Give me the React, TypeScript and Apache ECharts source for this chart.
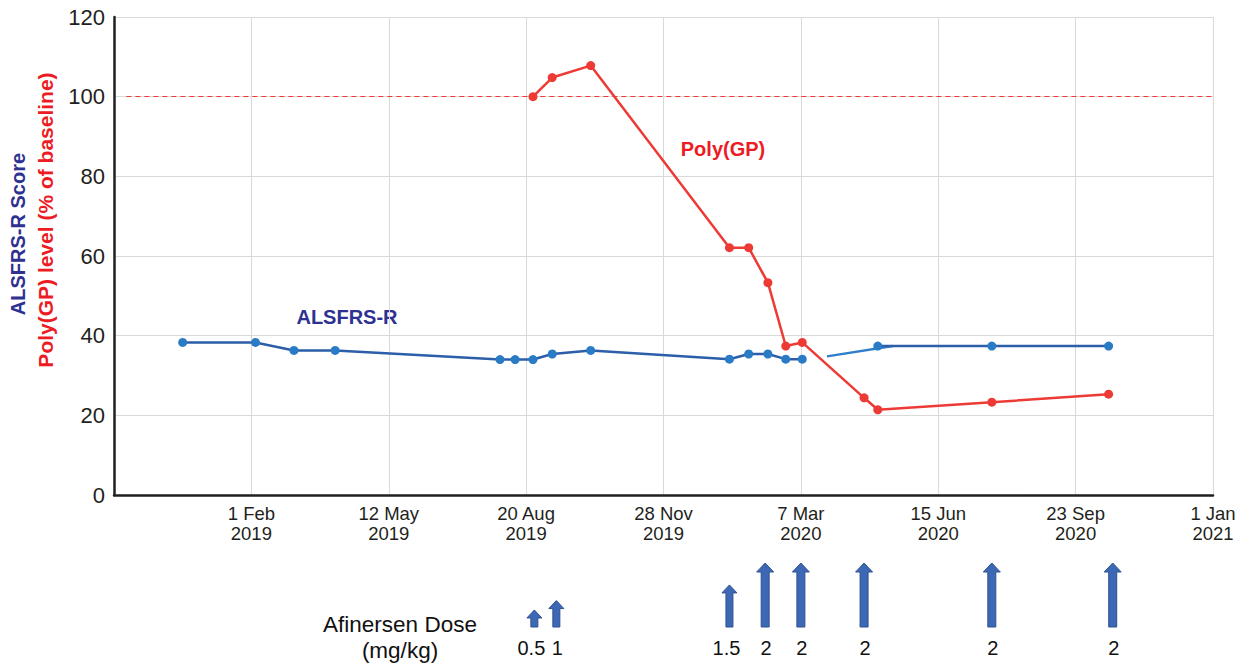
import React, { useEffect, useRef } from "react";
import * as echarts from "echarts";

// ---- data (dates) ----
const ORIGIN = "2018-10-24"; // x-axis start (100 days before 1 Feb 2019)
const xTickLabels = [
  "",
  "1 Feb\n2019",
  "12 May\n2019",
  "20 Aug\n2019",
  "28 Nov\n2019",
  "7 Mar\n2020",
  "15 Jun\n2020",
  "23 Sep\n2020",
  "1 Jan\n2021",
];

const alsfrsDatesA = [
  "2018-12-13", "2019-02-04", "2019-03-04", "2019-04-03", "2019-08-01",
  "2019-08-12", "2019-08-25", "2019-09-08", "2019-10-06", "2020-01-15",
  "2020-01-29", "2020-02-12", "2020-02-25", "2020-03-08",
];
const alsfrsValuesA = [38.3, 38.3, 36.3, 36.3, 34.0, 34.0, 34.0, 35.4, 36.3, 34.1, 35.4, 35.4, 34.1, 34.1];

const alsfrsDatesB = ["2020-05-02", "2020-07-24", "2020-10-17"];
const alsfrsValuesB = [37.4, 37.4, 37.4];

const alsfrsBridgeDates = ["2020-03-26", "2020-05-13"];
const alsfrsBridgeValues = [34.8, 37.4];

const polyDates = [
  "2019-08-25", "2019-09-08", "2019-10-06", "2020-01-15", "2020-01-29", "2020-02-12",
  "2020-02-25", "2020-03-08", "2020-04-22", "2020-05-02", "2020-07-24", "2020-10-17",
];
const polyValues = [100, 104.8, 107.8, 62.1, 62.1, 53.3, 37.4, 38.3, 24.4, 21.4, 23.3, 25.3];

const baselineValue = 100;
const baselineFrom = "2018-11-02";
const baselineTo = "2021-01-01";

const doseDates = [
  "2019-08-26", "2019-09-11", "2020-01-15", "2020-02-10",
  "2020-03-07", "2020-04-22", "2020-07-24", "2020-10-20",
];
const doseValues = [0.5, 1, 1.5, 2, 2, 2, 2, 2];

// ---- helpers ----
const toUTC = (s: string) => {
  const [y, m, d] = s.split("-").map(Number);
  return Date.UTC(y, m - 1, d);
};
const dayOf = (s: string) => Math.round((toUTC(s) - toUTC(ORIGIN)) / 86400000);
const pairs = (dates: string[], vals: number[]) => dates.map((d, i) => [dayOf(d), vals[i]]);

const FONT = "'Liberation Sans', Arial, sans-serif";
const BLUE_LINE = "#2c5ea9";
const BLUE_DOT = "#2a7bc6";
const RED = "#ee3a35";
const TITLE_BLUE = "#2e3192";
const TITLE_RED = "#ed1c24";
const ARROW_BASE = -1.11;

export default function App() {
  const ref = useRef<HTMLDivElement>(null);

  useEffect(() => {
    if (!ref.current) return;
    const chart = echarts.init(ref.current, undefined, { renderer: "svg" });

    const lineCommon = {
      type: "line",
      xAxisIndex: 0,
      yAxisIndex: 0,
      symbol: "circle",
      symbolSize: 9,
      silent: true,
    };

    const option: any = {
      animation: false,
      backgroundColor: "#ffffff",
      textStyle: { fontFamily: FONT },
      grid: [
        { left: 114, right: 37, top: 17, height: 478 },
        { left: 114, right: 37, top: 563, height: 64 },
      ],
      xAxis: [
        {
          type: "value",
          gridIndex: 0,
          min: 0,
          max: 800,
          interval: 100,
          axisLine: { show: true, onZero: false, lineStyle: { color: "#231f20", width: 2.5 } },
          axisTick: { show: false },
          splitLine: { show: true, lineStyle: { color: "#d9d9d9", width: 1 } },
          axisLabel: {
            show: true,
            margin: 8,
            fontSize: 18.5,
            lineHeight: 20,
            color: "#231f20",
            fontFamily: FONT,
            showMinLabel: true,
            showMaxLabel: true,
            formatter: (v: number) => xTickLabels[Math.round(v / 100)] ?? "",
          },
        },
        {
          type: "value",
          gridIndex: 1,
          min: 0,
          max: 800,
          show: false,
        },
      ],
      yAxis: [
        {
          type: "value",
          gridIndex: 0,
          min: 0,
          max: 120,
          interval: 20,
          axisLine: { show: true, lineStyle: { color: "#231f20", width: 2.5 } },
          axisTick: { show: false },
          splitLine: { show: true, lineStyle: { color: "#d9d9d9", width: 1 } },
          axisLabel: { fontSize: 22, color: "#231f20", margin: 9, fontFamily: FONT },
        },
        {
          type: "value",
          gridIndex: 1,
          min: ARROW_BASE,
          max: 4,
          show: false,
        },
      ],
      series: [
        {
          ...lineCommon,
          name: "ALSFRS-R bridge",
          data: pairs(alsfrsBridgeDates, alsfrsBridgeValues),
          showSymbol: false,
          symbol: "none",
          lineStyle: { color: "#2f7fca", width: 2.5 },
          z: 3,
        },
        {
          ...lineCommon,
          name: "ALSFRS-R",
          data: pairs(alsfrsDatesA, alsfrsValuesA),
          lineStyle: { color: BLUE_LINE, width: 2.5 },
          itemStyle: { color: BLUE_DOT, borderWidth: 0 },
          z: 4,
        },
        {
          ...lineCommon,
          name: "ALSFRS-R 2",
          data: pairs(alsfrsDatesB, alsfrsValuesB),
          lineStyle: { color: BLUE_LINE, width: 2.5 },
          itemStyle: { color: BLUE_DOT, borderWidth: 0 },
          z: 4,
        },
        {
          ...lineCommon,
          name: "Poly(GP)",
          data: pairs(polyDates, polyValues),
          lineStyle: { color: RED, width: 2.5 },
          itemStyle: { color: RED, borderWidth: 0 },
          z: 5,
          markLine: {
            silent: true,
            symbol: "none",
            label: { show: false },
            lineStyle: { color: RED, width: 1.2, type: [5, 4] },
            data: [
              [
                { coord: [dayOf(baselineFrom), baselineValue] },
                { coord: [dayOf(baselineTo), baselineValue] },
              ],
            ],
          },
        },
        {
          type: "custom",
          name: "Afinersen Dose",
          xAxisIndex: 1,
          yAxisIndex: 1,
          silent: true,
          clip: false,
          data: pairs(doseDates, doseValues),
          renderItem: (params: any, api: any) => {
            const x = api.value(0);
            const d = api.value(1);
            const top = api.coord([x, d * d]);
            const bot = api.coord([x, ARROW_BASE]);
            const cx = top[0];
            const big = d >= 2;
            const s = big ? 4 : 3.5;
            const h = big ? 8.5 : 7.5;
            const hh = big ? 9 : 8;
            const ty = top[1];
            const by = bot[1];
            const label = String(d);
            return {
              type: "group",
              children: [
                {
                  type: "polygon",
                  shape: {
                    points: [
                      [cx - s, by],
                      [cx - s, ty + hh],
                      [cx - h, ty + hh],
                      [cx, ty],
                      [cx + h, ty + hh],
                      [cx + s, ty + hh],
                      [cx + s, by],
                    ],
                  },
                  style: { fill: "#3d68b5", stroke: "#2f528f", lineWidth: 1 },
                },
                {
                  type: "text",
                  style: {
                    text: label,
                    x: label.length > 1 ? cx - 3 : cx + 1,
                    y: by + 21,
                    align: "center",
                    verticalAlign: "middle",
                    fontSize: 20,
                    fontFamily: FONT,
                    fill: "#111111",
                  },
                },
              ],
            };
          },
        },
      ],
      graphic: [
        {
          type: "text",
          x: 18,
          y: 234,
          rotation: Math.PI / 2,
          style: {
            text: "ALSFRS-R Score",
            fontSize: 20,
            fontWeight: "bold",
            fontFamily: FONT,
            fill: TITLE_BLUE,
            align: "center",
            verticalAlign: "middle",
          },
        },
        {
          type: "text",
          x: 45,
          y: 220,
          rotation: Math.PI / 2,
          style: {
            text: "Poly(GP) level (% of baseline)",
            fontSize: 21,
            fontWeight: "bold",
            fontFamily: FONT,
            fill: TITLE_RED,
            align: "center",
            verticalAlign: "middle",
          },
        },
        {
          type: "text",
          x: 347,
          y: 317,
          style: {
            text: "ALSFRS-R",
            fontSize: 20,
            fontWeight: "bold",
            fontFamily: FONT,
            fill: TITLE_BLUE,
            align: "center",
            verticalAlign: "middle",
          },
        },
        {
          type: "text",
          x: 723,
          y: 149,
          style: {
            text: "Poly(GP)",
            fontSize: 20,
            fontWeight: "bold",
            fontFamily: FONT,
            fill: TITLE_RED,
            align: "center",
            verticalAlign: "middle",
          },
        },
        {
          type: "text",
          x: 400,
          y: 624,
          style: {
            text: "Afinersen Dose",
            fontSize: 22.5,
            fontFamily: FONT,
            fill: "#111111",
            align: "center",
            verticalAlign: "middle",
          },
        },
        {
          type: "text",
          x: 400,
          y: 650,
          style: {
            text: "(mg/kg)",
            fontSize: 22.5,
            fontFamily: FONT,
            fill: "#111111",
            align: "center",
            verticalAlign: "middle",
          },
        },
      ],
    };

    chart.setOption(option);
    return () => chart.dispose();
  }, []);

  return (
    <div
      ref={ref}
      style={{ position: "fixed", left: 0, top: 0, width: 1250, height: 664, background: "#fff" }}
    />
  );
}
